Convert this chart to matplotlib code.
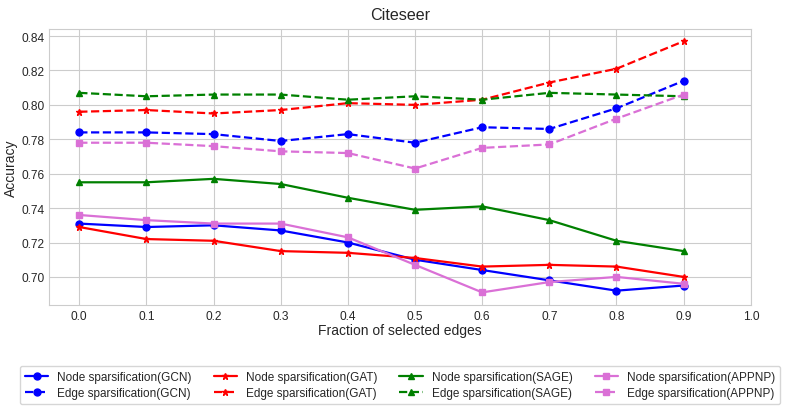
import numpy as np
import matplotlib
matplotlib.use('Agg')
import matplotlib.pyplot as plt
import seaborn as sns

sns.set_style('whitegrid')
plt.rcParams['font.family'] = ['Liberation Sans', 'DejaVu Sans']

fractions = [0.0, 0.1, 0.2, 0.3, 0.4, 0.5, 0.6, 0.7, 0.8, 0.9]

node_gcn = [0.731, 0.729, 0.730, 0.727, 0.720, 0.710, 0.704, 0.698, 0.692, 0.695]
edge_gcn = [0.784, 0.784, 0.783, 0.779, 0.783, 0.778, 0.787, 0.786, 0.798, 0.814]
node_gat = [0.729, 0.722, 0.721, 0.715, 0.714, 0.711, 0.706, 0.707, 0.706, 0.700]
edge_gat = [0.796, 0.797, 0.795, 0.797, 0.801, 0.800, 0.803, 0.813, 0.821, 0.837]
node_sage = [0.755, 0.755, 0.757, 0.754, 0.746, 0.739, 0.741, 0.733, 0.721, 0.715]
edge_sage = [0.807, 0.805, 0.806, 0.806, 0.803, 0.805, 0.803, 0.807, 0.806, 0.805]
node_appnp = [0.736, 0.733, 0.731, 0.731, 0.723, 0.707, 0.691, 0.697, 0.700, 0.696]
edge_appnp = [0.778, 0.778, 0.776, 0.773, 0.772, 0.763, 0.775, 0.777, 0.792, 0.806]

fig, ax = plt.subplots(figsize=(7.87, 4.14), dpi=100)

lw = 1.6
ms = 5
# order follows the legend (column-wise: node row then edge row)
ax.plot(fractions, node_gcn, '-', color='blue', marker='o', markersize=ms, lw=lw, label='Node sparsification(GCN)')
ax.plot(fractions, edge_gcn, '--', color='blue', marker='o', markersize=ms, lw=lw, label='Edge sparsification(GCN)')
ax.plot(fractions, node_gat, '-', color='red', marker='*', markersize=ms, lw=lw, label='Node sparsification(GAT)')
ax.plot(fractions, edge_gat, '--', color='red', marker='*', markersize=ms, lw=lw, label='Edge sparsification(GAT)')
ax.plot(fractions, node_sage, '-', color='green', marker='^', markersize=ms, lw=lw, label='Node sparsification(SAGE)')
ax.plot(fractions, edge_sage, '--', color='green', marker='^', markersize=ms, lw=lw, label='Edge sparsification(SAGE)')
ax.plot(fractions, node_appnp, '-', color='orchid', marker='s', markersize=ms, lw=lw, label='Node sparsification(APPNP)')
ax.plot(fractions, edge_appnp, '--', color='orchid', marker='s', markersize=ms, lw=lw, label='Edge sparsification(APPNP)')

ax.set_xlim(-0.045, 1.0)
ax.set_ylim(0.6837, 0.8441)
ax.set_xticks(np.arange(0, 1.01, 0.1))
ax.set_yticks([0.70, 0.72, 0.74, 0.76, 0.78, 0.80, 0.82, 0.84])
ax.tick_params(labelsize=8.6, length=0, pad=3.5)
ax.set_xlabel('Fraction of selected edges', fontsize=10, labelpad=1)
ax.set_ylabel('Accuracy', fontsize=10, labelpad=2)
ax.set_title('Citeseer', fontsize=11.6, pad=7)

fig.subplots_adjust(left=0.0623, right=0.954, top=0.9275, bottom=0.261)

ax.legend(loc='upper center', bbox_to_anchor=(400 / 787, 1 - 367 / 414), bbox_transform=fig.transFigure,
          ncol=4, fontsize=8.5, frameon=True, borderaxespad=0, handlelength=2.0,
          handletextpad=0.75, columnspacing=1.85, labelspacing=0.4)

fig.savefig('out.png', dpi=100)
